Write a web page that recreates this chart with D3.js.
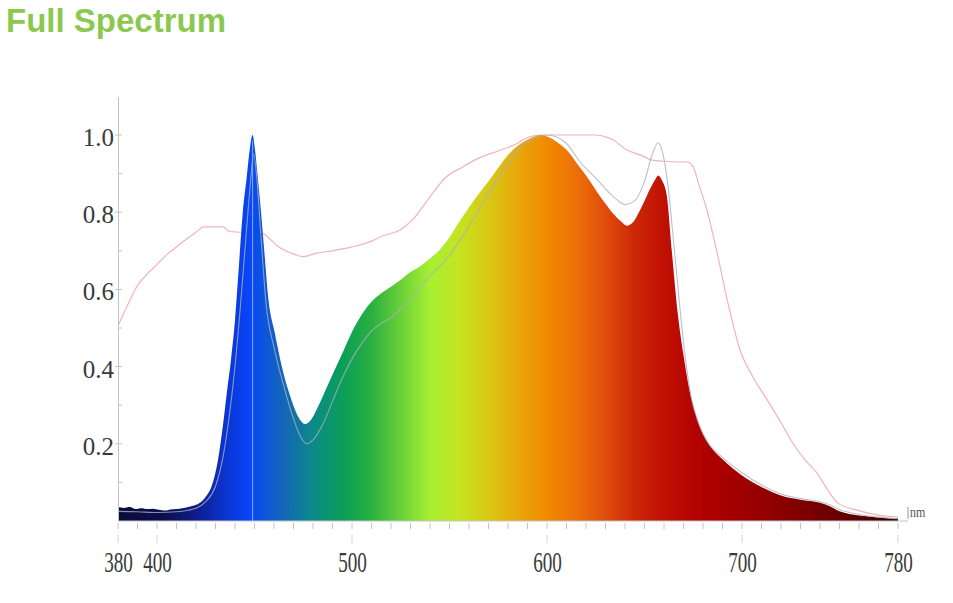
<!DOCTYPE html>
<html>
<head>
<meta charset="utf-8">
<script src="https://cdn.jsdelivr.net/npm/d3@7/dist/d3.min.js"></script>
<style>
  html,body{margin:0;padding:0;background:#fff;}
  svg{display:block;}
</style>
</head>
<body>
<svg id="chart" width="953" height="603"></svg>
<script>
// ---------- data ----------
const title = "Full Spectrum";
const xTickLabels = [380, 400, 500, 600, 700, 780];
const yTickLabels = [0.2, 0.4, 0.6, 0.8, 1.0];
const unitLabel = "nm";

// main (filled) spectrum
const specNm  = [380,383,386,389,392,395,398,401,404,407,410,413,416,419,422,425,428,431,434,436,438,440,442,444,446,447.5,449,450.3,451.5,453,455,457,460.5,464,469,473,476,479,482,488,495,501,505,510,515,520,525,530,535,540,545,550,555,560,565,570,575,580,585,590,597,600,605,610,617,620,626,630,634,638,641,644,648,653,655.5,657,659,661.5,664,667,670,673,676,680,685,690,695,700,710,720,730,740,745,750,755,760,770,780];
const specVal = [0.036,0.034,0.036,0.031,0.033,0.031,0.032,0.029,0.027,0.030,0.031,0.033,0.036,0.040,0.047,0.063,0.090,0.150,0.255,0.340,0.420,0.520,0.660,0.800,0.890,0.960,1.000,0.960,0.900,0.820,0.700,0.580,0.485,0.400,0.313,0.265,0.251,0.262,0.290,0.357,0.434,0.500,0.535,0.568,0.590,0.607,0.625,0.645,0.660,0.680,0.703,0.735,0.775,0.812,0.848,0.880,0.915,0.948,0.972,0.988,1.000,0.996,0.982,0.962,0.915,0.895,0.850,0.822,0.796,0.776,0.765,0.773,0.808,0.862,0.885,0.895,0.882,0.840,0.700,0.540,0.430,0.340,0.280,0.225,0.185,0.160,0.137,0.118,0.088,0.066,0.055,0.047,0.038,0.025,0.018,0.014,0.009,0.006];

// grey reference spectrum
const greyNm  = [380,390,400,410,416,420,425,430,434,437,440,443,446,448,449.5,451,453,456,460,465,470,474,477,480,485,490,495,500,505,510,515,520,530,540,548,557,565,572,579,586,593,600,605,610,617,626,632,636,640,645,650,654,657,659,662,665,668,671,674,678,683,690,700,710,720,730,740,745,750,760,770,780];
const greyVal = [0.025,0.024,0.022,0.024,0.028,0.033,0.050,0.090,0.170,0.270,0.400,0.570,0.760,0.880,0.950,0.900,0.760,0.560,0.450,0.350,0.265,0.215,0.200,0.210,0.250,0.310,0.370,0.420,0.460,0.492,0.512,0.527,0.575,0.635,0.676,0.740,0.806,0.865,0.918,0.965,0.990,1.000,0.995,0.978,0.930,0.883,0.850,0.832,0.820,0.830,0.880,0.950,0.980,0.960,0.870,0.720,0.560,0.420,0.320,0.250,0.200,0.165,0.125,0.093,0.070,0.058,0.050,0.042,0.030,0.017,0.010,0.006];

// pink curve
const pinkNm  = [380,385,390,395,400,405,410,415,420,424,434,437,454,458,462,466,470,475,482,490,500,510,515,525,531,540,548,557,565,574,583,591,597,625,630,634,641,648,654,660,668,672,675,678,682,687,693,699,706,713,720,726,732,738.5,744,749,759,770,780];
const pinkVal = [0.505,0.560,0.610,0.640,0.665,0.690,0.710,0.730,0.748,0.762,0.762,0.750,0.745,0.730,0.712,0.700,0.692,0.685,0.694,0.700,0.710,0.725,0.737,0.755,0.780,0.840,0.890,0.918,0.940,0.957,0.974,0.995,1.000,1.000,0.995,0.987,0.961,0.948,0.935,0.932,0.930,0.930,0.917,0.870,0.806,0.700,0.560,0.443,0.370,0.313,0.255,0.202,0.160,0.124,0.080,0.047,0.028,0.015,0.010];

// spectral colour palette for the gradient fill
const gradNm     = [380,405,420,435,447,452,465,480,495,510,525,540,555,570,585,600,615,630,645,660,680,700,730,760,780];
const gradColors = ["#0a0a3c","#0c1050","#0f1c8a","#0b34d0","#0845f8","#0a50e8","#1466b8","#0c8a88","#0a9e58","#2ab040","#6ad038","#a6f032","#c4e420","#d8c814","#e8a80a","#f08a00","#ec7008","#e04c0c","#cc2808","#c01004","#b00000","#a00000","#800000","#5a0000","#300000"];

// ---------- drawing ----------
const svg = d3.select("#chart");
const x = d3.scaleLinear().domain([380, 780]).range([118, 898]);
const y = d3.scaleLinear().domain([0, 1.1]).range([521, 96.4]);

svg.append("text")
  .attr("x", 6).attr("y", 32)
  .attr("font-family", "'Liberation Sans', Arial, sans-serif")
  .attr("font-weight", "bold")
  .attr("font-size", 33)
  .attr("fill", "#8cc850")
  .text(title);

const defs = svg.append("defs");
const grad = defs.append("linearGradient")
  .attr("id", "specGrad")
  .attr("gradientUnits", "userSpaceOnUse")
  .attr("x1", x(380)).attr("x2", x(780))
  .attr("y1", 0).attr("y2", 0);
gradNm.forEach((nm, i) => {
  grad.append("stop")
    .attr("offset", (nm - 380) / 400)
    .attr("stop-color", gradColors[i]);
});

const spec = specNm.map((n, i) => [n, specVal[i]]);
const grey = greyNm.map((n, i) => [n, greyVal[i]]);
const pink = pinkNm.map((n, i) => [n, pinkVal[i]]);

// pink line (behind)
const line = d3.line().x(d => x(d[0])).y(d => y(d[1])).curve(d3.curveMonotoneX);
svg.append("path").datum(pink)
  .attr("d", line)
  .attr("fill", "none")
  .attr("stroke", "#f2b4b4")
  .attr("stroke-width", 1.2);

// filled spectrum
const area = d3.area().x(d => x(d[0])).y0(y(0)).y1(d => y(d[1])).curve(d3.curveMonotoneX);
svg.append("path").datum(spec)
  .attr("d", area)
  .attr("fill", "url(#specGrad)");

// thin light line at peak wavelength
svg.append("line")
  .attr("x1", x(449)).attr("x2", x(449))
  .attr("y1", y(0.985)).attr("y2", y(0))
  .attr("stroke", "#ffffff").attr("stroke-opacity", 0.45).attr("stroke-width", 1.2);

// grey line
svg.append("path").datum(grey)
  .attr("d", line)
  .attr("fill", "none")
  .attr("stroke", "#a9b0c0")
  .attr("stroke-opacity", 0.8)
  .attr("stroke-width", 1.1);

// ---------- axes ----------
const axisColor = "#c4c4c4";
const labelColor = "#3a3a3a";

// y axis
const yAxis = svg.append("g").attr("transform", `translate(${x(380)},0)`)
  .call(d3.axisLeft(y).tickValues(yTickLabels).tickFormat(d3.format(".1f")).tickSize(0).tickPadding(4));
yAxis.select(".domain").attr("stroke", axisColor);
yAxis.selectAll("text")
  .attr("font-family", "'Liberation Serif', 'Times New Roman', serif")
  .attr("font-size", 25)
  .attr("fill", labelColor)
  .attr("dy", "0.42em");
// y ticks (major & minor)
const yMinor = d3.range(1, 11).map(d => d / 10);
svg.append("g").selectAll("line").data(yMinor).join("line")
  .attr("x1", (d, i) => i % 2 === 1 ? x(380) - 3 : x(380))
  .attr("x2", x(380) + 4)
  .attr("y1", d => y(d)).attr("y2", d => y(d))
  .attr("stroke", axisColor).attr("stroke-width", 1);

// x axis baseline
svg.append("line")
  .attr("x1", x(380)).attr("x2", x(780) + 10)
  .attr("y1", y(0)).attr("y2", y(0))
  .attr("stroke", axisColor);

// x minor ticks every 10 nm
const xMinor = d3.range(380, 781, 10);
svg.append("g").selectAll("line").data(xMinor).join("line")
  .attr("x1", d => x(d)).attr("x2", d => x(d))
  .attr("y1", y(0) + 2).attr("y2", y(0) + 8)
  .attr("stroke", axisColor);
// second row of ticks at labelled positions
svg.append("g").selectAll("line").data(xTickLabels).join("line")
  .attr("x1", d => x(d)).attr("x2", d => x(d))
  .attr("y1", y(0) + 14).attr("y2", y(0) + 22)
  .attr("stroke", "#d4d4d4");

// x labels (condensed serif)
const xAxis = svg.append("g").attr("transform", `translate(0,${y(0)})`)
  .call(d3.axisBottom(x).tickValues(xTickLabels).tickFormat(d3.format("d")).tickSize(0));
xAxis.select(".domain").remove();
xAxis.selectAll("text")
  .attr("font-family", "'Liberation Serif', 'Times New Roman', serif")
  .attr("font-size", 29)
  .attr("fill", labelColor)
  .attr("y", 0)
  .attr("dy", 0)
  .attr("transform", "translate(0,51) scale(0.66,1)");

// unit label
svg.append("line")
  .attr("x1", x(780) + 10).attr("x2", x(780) + 10)
  .attr("y1", y(0) - 14).attr("y2", y(0) - 2)
  .attr("stroke", "#999");
svg.append("text")
  .attr("transform", `translate(${x(780) + 12},${y(0) - 4}) scale(0.8,1)`)
  .attr("font-family", "'Liberation Serif', 'Times New Roman', serif")
  .attr("font-size", 15)
  .attr("fill", "#555")
  .text(unitLabel);
</script>
</body>
</html>
